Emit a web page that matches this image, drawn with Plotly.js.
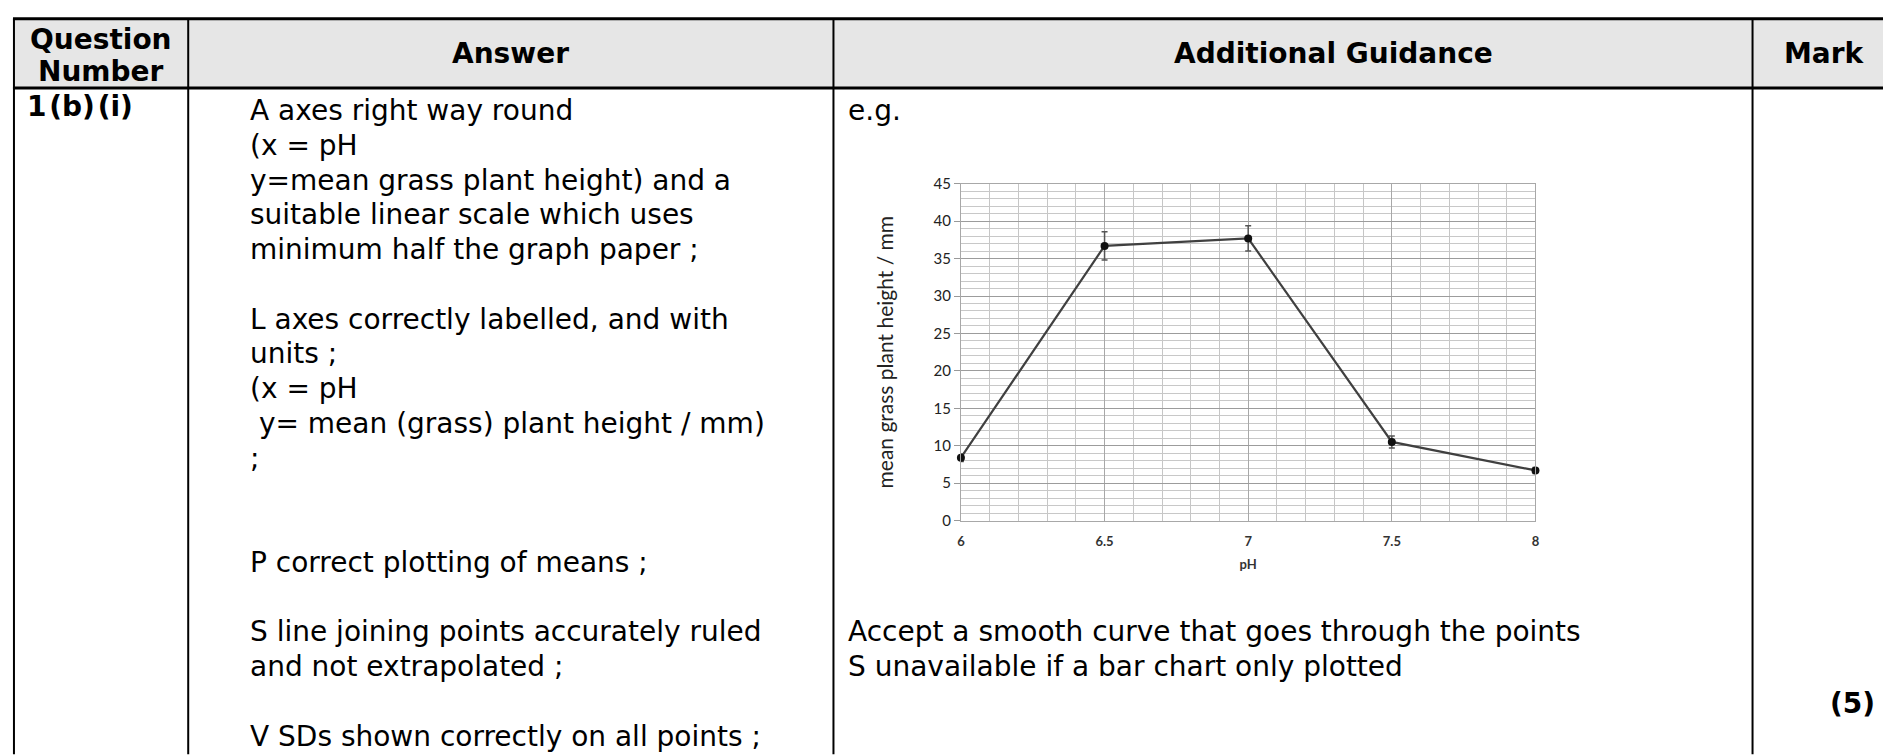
<!DOCTYPE html>
<html>
<head>
<meta charset="utf-8">
<script src="https://cdn.plot.ly/plotly-3.0.1.min.js"></script>
<style>
  html, body { margin: 0; padding: 0; background: #ffffff; }
  #chart { width: 1883px; height: 755px; }
</style>
</head>
<body>
<div id="chart"></div>
<script>
// ---- chart data ----
const pH = [6, 6.5, 7, 7.5, 8];
const meanHeight = [8.4, 36.7, 37.7, 10.5, 6.7];
const sdHeight = [0.5, 1.9, 1.7, 0.8, 0.4];
const xTickVals = [6, 6.5, 7, 7.5, 8];
const xTickText = ['6', '6.5', '7', '7.5', '8'];
const yTickVals = [0, 5, 10, 15, 20, 25, 30, 35, 40, 45];

// ---- table text ----
const headerLabels = ['Question', 'Number', 'Answer', 'Additional Guidance', 'Mark'];
const questionNumber = '1\u200a(b)\u200a(i)';
const answerLines = [
  'A axes right way round',
  '(x = pH',
  'y=mean grass plant height) and a',
  'suitable linear scale which uses',
  'minimum half the graph paper ;',
  '',
  'L axes correctly labelled, and with',
  'units ;',
  '(x = pH',
  '\u00a0y= mean (grass) plant height / mm)',
  ';',
  '',
  '',
  'P correct plotting of means ;',
  '',
  'S line joining points accurately ruled',
  'and not extrapolated ;',
  '',
  'V SDs shown correctly on all points ;'
];
const guidanceLines = [
  'e.g.', '', '', '', '', '', '', '', '', '', '', '', '', '', '',
  'Accept a smooth curve that goes through the points',
  'S unavailable if a bar chart only plotted'
];
const markText = '(5)';

const W = 1883, H = 755;
const px = x => x / W;
const py = y => 1 - y / H;

const BODY_FONT = 'DejaVu Sans, Verdana, sans-serif';
const CHART_FONT = 'Lato, Open Sans, sans-serif';

// table geometry (pixels)
const tableTop = 9, headerBottom = 80, leftX = 10;
const colSeps = [185, 833, 1756];
const firstLineY = 103, lineStep = 35.6;
const answerX = 245, guidanceX = 846;

const shapes = [];
shapes.push({type: 'rect', xref: 'paper', yref: 'paper', x0: px(leftX), x1: 1.01,
  y0: py(headerBottom), y1: py(tableTop), fillcolor: '#e6e6e6', line: {width: 0}, layer: 'below'});
shapes.push({type: 'line', xref: 'paper', yref: 'paper', x0: px(leftX - 1), x1: 1.01,
  y0: py(tableTop), y1: py(tableTop), line: {color: '#000', width: 3}});
shapes.push({type: 'line', xref: 'paper', yref: 'paper', x0: px(leftX - 1), x1: 1.01,
  y0: py(headerBottom), y1: py(headerBottom), line: {color: '#000', width: 3}});
[leftX].concat(colSeps).forEach(x => {
  shapes.push({type: 'line', xref: 'paper', yref: 'paper', x0: px(x), x1: px(x),
    y0: py(tableTop), y1: -0.01, line: {color: '#000', width: 2}});
});

const annotations = [];
function addText(text, x, y, opts) {
  annotations.push(Object.assign({
    xref: 'paper', yref: 'paper', x: px(x), y: py(y), text: text, showarrow: false,
    xanchor: 'left', yanchor: 'middle',
    font: {family: BODY_FONT, size: 28, color: '#000'}
  }, opts || {}));
}
const headFont = {family: BODY_FONT, size: 28, color: '#000', weight: 'bold'};
addText('<b>' + headerLabels[0] + '</b>', 97, 30, {xanchor: 'center', font: headFont});
addText('<b>' + headerLabels[1] + '</b>', 97, 63, {xanchor: 'center', font: headFont});
addText('<b>' + headerLabels[2] + '</b>', 509, 45, {xanchor: 'center', font: headFont});
addText('<b>' + headerLabels[3] + '</b>', 1335, 45, {xanchor: 'center', font: headFont});
addText('<b>' + headerLabels[4] + '</b>', 1828, 45, {xanchor: 'center', font: headFont});
addText('<b>' + questionNumber + '</b>', 21, 99, {font: headFont});
answerLines.forEach((t, i) => { if (t) addText(t, answerX, firstLineY + lineStep * i); });
guidanceLines.forEach((t, i) => { if (t) addText(t, guidanceX, firstLineY + lineStep * i); });
addText('<b>' + markText + '</b>', 1881, 710, {xanchor: 'right', font: headFont});

// ---- inset chart ----
const trace = {
  x: pH, y: meanHeight, type: 'scatter', mode: 'lines+markers',
  line: {color: '#404040', width: 2.2},
  marker: {color: '#111', size: 8},
  error_y: {type: 'data', array: sdHeight, visible: true, color: '#555', thickness: 1.5, width: 3},
  cliponaxis: false, showlegend: false, hoverinfo: 'skip'
};

const layout = {
  width: W, height: H,
  margin: {l: 0, r: 0, t: 0, b: 0},
  paper_bgcolor: '#ffffff', plot_bgcolor: '#ffffff',
  showlegend: false,
  xaxis: {
    domain: [px(961), px(1538)], range: [6, 8], fixedrange: true,
    tickvals: xTickVals, ticktext: xTickText,
    showgrid: true, gridcolor: '#a8a8a8', gridwidth: 1,
    minor: {dtick: 0.1, showgrid: true, gridcolor: '#c6c6c6', gridwidth: 1, ticks: ''},
    zeroline: false, showline: true, linecolor: '#a8a8a8', linewidth: 1, mirror: true,
    ticks: '', ticklabelstandoff: 9,
    tickfont: {family: CHART_FONT, size: 13, color: '#333', weight: 'bold'},
    title: {text: 'pH', font: {family: CHART_FONT, size: 13, color: '#333', weight: 'bold'}, standoff: 11},
    automargin: true
  },
  yaxis: {
    domain: [py(523), py(178)], range: [0, 45], fixedrange: true,
    tickvals: yTickVals,
    showgrid: true, gridcolor: '#9c9c9c', gridwidth: 1,
    minor: {dtick: 1, showgrid: true, gridcolor: '#c8c8c8', gridwidth: 1, ticks: ''},
    zeroline: false, showline: true, linecolor: '#a8a8a8', linewidth: 1, mirror: true,
    ticks: 'outside', ticklen: 6, tickcolor: '#999',
    tickfont: {family: CHART_FONT, size: 15, color: '#222'},
    title: {text: 'mean grass plant height / mm', font: {family: CHART_FONT, size: 21, color: '#222'}, standoff: 34},
    automargin: true
  },
  shapes: shapes,
  annotations: annotations
};

Plotly.newPlot('chart', [trace], layout, {displayModeBar: false, staticPlot: true});
</script>
</body>
</html>
